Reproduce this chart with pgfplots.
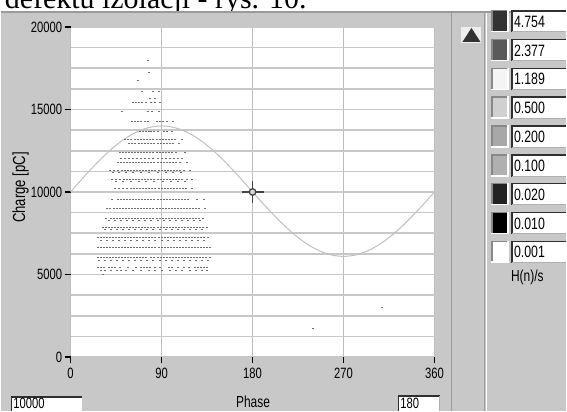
\documentclass[border=0pt]{standalone}
\usepackage{pgfplots}
\pgfplotsset{compat=1.18}
\usepackage{pgfplotstable}
\usepackage{fontspec}
\setmainfont{Liberation Sans}
\newfontfamily\labfont{Liberation Sans}[FakeStretch=0.75]
\newfontfamily\serifont{Liberation Serif}
\definecolor{panel}{HTML}{C8C8C8}
\definecolor{panelline}{HTML}{9A9A9A}
\definecolor{gridc}{HTML}{C8C8C8}
\definecolor{gridv}{HTML}{BEBEBE}
\definecolor{sinec}{HTML}{C0C0C0}
\definecolor{dotc}{HTML}{707070}
\definecolor{curc}{HTML}{444444}
\definecolor{curfill}{HTML}{D8D8D8}
\definecolor{tribg}{HTML}{EEEEEE}
\definecolor{trifg}{HTML}{333333}
\definecolor{swborder}{HTML}{888888}
\definecolor{boxdark}{HTML}{303030}
\definecolor{boxlight}{HTML}{B0B0B0}

\pgfplotstableread{
x y
77 17950
78 17220
67 16740
71 16070
82 16070
87 16070
79 15650
84 15650
62 15400
65 15400
68 15400
71 15400
75 15400
80 15400
84 15400
88 15400
51 14860
77 14860
81 14860
87 14860
61 14260
64 14260
67 14260
70 14260
74 14260
77 14260
85 14260
88 14260
91 14260
95 14260
101 14260
69 13650
72 13650
75 13650
78 13650
80 13650
83 13650
86 13650
92 13650
95 13650
100 13650
54 13170
57 13170
60 13170
64 13170
67 13170
70 13170
73 13170
76 13170
79 13170
82 13170
85 13170
88 13170
91 13170
94 13170
97 13170
100 13170
103 13170
110 13170
58 12930
61 12930
64 12930
68 12930
71 12930
74 12930
77 12930
80 12930
83 12930
86 12930
89 12930
92 12930
95 12930
98 12930
101 12930
107 12930
49 12390
52 12390
55 12390
58 12390
61 12390
64 12390
67 12390
70 12390
73 12390
76 12390
79 12390
82 12390
85 12390
88 12390
91 12390
94 12390
97 12390
100 12390
104 12390
113 12390
50 12030
54 12030
58 12030
62 12030
66 12030
70 12030
74 12030
78 12030
82 12030
86 12030
90 12030
94 12030
98 12030
102 12030
106 12030
110 12030
47 11780
50 11780
53 11780
56 11780
59 11780
62 11780
65 11780
68 11780
71 11780
74 11780
77 11780
80 11780
83 11780
86 11780
89 11780
92 11780
95 11780
98 11780
101 11780
104 11780
108 11780
115 11780
39 11300
43 11300
47 11300
51 11300
54 11300
57 11300
60 11300
63 11300
66 11300
69 11300
72 11300
75 11300
78 11300
81 11300
84 11300
87 11300
90 11300
93 11300
96 11300
99 11300
102 11300
105 11300
108 11300
112 11300
118 11300
42 11180
48 11180
55 11180
62 11180
70 11180
78 11180
86 11180
94 11180
101 11180
109 11180
41 10750
45 10750
49 10750
53 10750
56 10750
59 10750
62 10750
65 10750
68 10750
71 10750
74 10750
77 10750
80 10750
83 10750
86 10750
89 10750
92 10750
95 10750
98 10750
101 10750
104 10750
107 10750
110 10750
115 10750
120 10750
45 10630
52 10630
60 10630
68 10630
75 10630
83 10630
91 10630
99 10630
106 10630
113 10630
44 10210
48 10210
52 10210
56 10210
60 10210
63 10210
66 10210
69 10210
72 10210
75 10210
78 10210
81 10210
84 10210
87 10210
90 10210
93 10210
96 10210
99 10210
102 10210
105 10210
108 10210
111 10210
114 10210
120 10210
41 9545
47 9545
50 9545
53 9545
56 9545
59 9545
62 9545
65 9545
68 9545
71 9545
74 9545
77 9545
80 9545
83 9545
86 9545
89 9545
92 9545
95 9545
98 9545
101 9545
104 9545
107 9545
110 9545
113 9545
116 9545
125 9545
132 9545
36 9000
39 9000
43 9000
46 9000
49 9000
52 9000
55 9000
58 9000
61 9000
64 9000
67 9000
70 9000
73 9000
76 9000
79 9000
82 9000
85 9000
88 9000
91 9000
94 9000
97 9000
100 9000
103 9000
106 9000
109 9000
112 9000
115 9000
118 9000
121 9000
124 9000
127 9000
133 9000
35 8400
40 8400
43 8400
46 8400
49 8400
52 8400
55 8400
58 8400
61 8400
64 8400
67 8400
70 8400
73 8400
76 8400
79 8400
82 8400
85 8400
88 8400
91 8400
94 8400
97 8400
100 8400
103 8400
106 8400
109 8400
112 8400
115 8400
118 8400
121 8400
124 8400
127 8400
131 8400
38 8280
44 8280
50 8280
56 8280
62 8280
68 8280
74 8280
80 8280
86 8280
92 8280
98 8280
104 8280
110 8280
116 8280
122 8280
128 8280
32 7855
35 7855
38 7855
41 7855
44 7855
47 7855
50 7855
53 7855
56 7855
59 7855
62 7855
65 7855
68 7855
71 7855
74 7855
77 7855
80 7855
83 7855
86 7855
89 7855
92 7855
95 7855
98 7855
101 7855
104 7855
107 7855
110 7855
113 7855
116 7855
119 7855
122 7855
125 7855
128 7855
131 7855
135 7855
34 7735
40 7735
46 7735
52 7735
58 7735
64 7735
70 7735
76 7735
82 7735
88 7735
94 7735
100 7735
106 7735
112 7735
118 7735
124 7735
130 7735
27 7250
30 7250
33 7250
36 7250
39 7250
42 7250
45 7250
48 7250
51 7250
54 7250
57 7250
60 7250
63 7250
66 7250
69 7250
72 7250
75 7250
78 7250
81 7250
84 7250
87 7250
90 7250
93 7250
96 7250
99 7250
102 7250
105 7250
108 7250
111 7250
114 7250
117 7250
120 7250
123 7250
126 7250
129 7250
132 7250
136 7250
30 7070
36 7070
42 7070
48 7070
54 7070
60 7070
66 7070
72 7070
78 7070
84 7070
90 7070
96 7070
102 7070
108 7070
114 7070
120 7070
126 7070
132 7070
27 6645
30 6645
33 6645
36 6645
39 6645
42 6645
45 6645
48 6645
51 6645
54 6645
57 6645
60 6645
63 6645
66 6645
69 6645
72 6645
75 6645
78 6645
81 6645
84 6645
87 6645
90 6645
93 6645
96 6645
99 6645
102 6645
105 6645
108 6645
111 6645
114 6645
117 6645
120 6645
123 6645
126 6645
129 6645
132 6645
135 6645
138 6645
27 6040
30 6040
33 6040
36 6040
39 6040
42 6040
45 6040
48 6040
51 6040
54 6040
57 6040
60 6040
63 6040
66 6040
69 6040
72 6040
75 6040
80 6040
83 6040
86 6040
89 6040
92 6040
95 6040
98 6040
101 6040
104 6040
107 6040
110 6040
113 6040
116 6040
119 6040
122 6040
125 6040
128 6040
131 6040
134 6040
138 6040
28 5860
34 5860
40 5860
46 5860
52 5860
58 5860
64 5860
70 5860
76 5860
82 5860
88 5860
94 5860
100 5860
106 5860
112 5860
118 5860
124 5860
130 5860
136 5860
27 5440
30 5440
33 5440
38 5440
41 5440
44 5440
49 5440
57 5440
65 5440
70 5440
73 5440
76 5440
79 5440
84 5440
88 5440
97 5440
100 5440
106 5440
112 5440
117 5440
123 5440
126 5440
129 5440
132 5440
135 5440
30 5255
34 5255
40 5255
46 5255
50 5255
55 5255
62 5255
70 5255
78 5255
84 5255
90 5255
98 5255
104 5255
110 5255
118 5255
124 5255
130 5255
135 5255
32 5010
308 3020
240 1750
}\dotdata

\begin{document}
\begin{tikzpicture}[x=1pt,y=1pt]
% page background and title
\fill[white] (0,0) rectangle (567,412);
\begin{scope}
\clip (0,400) rectangle (567,412);
\node[anchor=base west,inner sep=0pt,font=\serifont\fontsize{30}{30}\selectfont] at (4,403) {defektu izolacji - rys. 10.};
\end{scope}
% panel
\fill[panel] (0,0) rectangle (567,400);
\draw[panelline,line width=1.5pt] (0,400) -- (567,400);
\draw[panelline,line width=1.5pt] (452,0) -- (452,400);
\draw[panelline,line width=1.5pt] (485,0) -- (485,400);
\draw[white,line width=1pt] (487,0) -- (487,399);
% triangle
\fill[tribg] (462,369) rectangle (482,385);
\fill[trifg] (463,370) -- (481,370) -- (472,384) -- cycle;
% legend
\foreach \v/\c [count=\i from 0] in {4.754/333333,2.377/5A5A5A,1.189/F4F4F4,0.500/D0D0D0,0.200/A8A8A8,0.100/B0B0B0,0.020/222222,0.010/000000,0.001/FFFFFF}{
  \definecolor{swc}{HTML}{\c}
  \pgfmathsetmacro{\rtop}{412-10-28.9*\i}
  \pgfmathsetmacro{\rbot}{\rtop-22.5}
  \fill[white] (492,\rbot) rectangle (509.5,\rtop);
  \fill[swborder] (492,\rbot+1.5) rectangle (508,\rtop);
  \fill[swc] (493.5,\rbot+1.5) rectangle (508,\rtop-1.5);
  \fill[white] (512,\rbot) rectangle (567,\rtop);
  \draw[boxdark,line width=1.6pt] (512.8,\rbot) -- (512.8,\rtop-0.8) -- (567,\rtop-0.8);
  \draw[boxlight,line width=1pt] (513,\rbot+0.5) -- (567,\rbot+0.5);
  \node[anchor=west,inner sep=0pt,font=\labfont\fontsize{16.5}{16.5}\selectfont] at (514.5,{(\rtop+\rbot)/2-0.5}) {\v};
}
\node[font=\labfont\fontsize{16}{16}\selectfont] at (528,134) {H(n)/s};
% bottom boxes
\fill[white] (10,0) rectangle (81,15);
\draw[boxdark,line width=1.6pt] (10.8,0) -- (10.8,14.2) -- (81,14.2);
\node[anchor=base west,inner sep=0pt,font=\labfont\fontsize{15}{15}\selectfont] at (12.5,2) {10000};
\fill[white] (398,0) rectangle (440,16);
\draw[boxdark,line width=1.6pt] (398.8,0) -- (398.8,15.2) -- (440,15.2);
\draw[boxlight,line width=1pt] (439.5,0) -- (439.5,15);
\node[anchor=base west,inner sep=0pt,font=\labfont\fontsize{15}{15}\selectfont] at (400.5,2) {180};
\node[font=\labfont\fontsize{16}{16}\selectfont] at (253,9.5) {Phase};
\node[rotate=90,font=\labfont\fontsize{17.5}{17.5}\selectfont] at (20,224) {Charge [pC]};
\begin{axis}[
  at={(70pt,54pt)}, anchor=south west,
  scale only axis, width=365pt, height=331pt,
  xmin=0, xmax=360, ymin=0, ymax=20000,
  axis background/.style={fill=white},
  axis line style={draw=none},
  xtick={0,90,180,270,360},
  ytick={0,5000,10000,15000,20000},
  minor ytick={1250,2500,3750,6250,7500,8750,11250,12500,13750,16250,17500,18750},
  scaled y ticks=false,
  /pgf/number format/assume math mode=true,
  /pgf/number format/set thousands separator={},
  ticklabel style={font=\labfont\fontsize{15}{15}\selectfont},
  xticklabel style={yshift=-2pt},
  yticklabel style={xshift=1pt},
  tick pos=left, tick align=outside,
  major tick length=6pt, minor tick length=0pt,
  tick style={black,line width=1.4pt},
  xmajorgrids, ymajorgrids, yminorgrids,
  x grid style={draw=gridv,line width=1pt},
  major y grid style={draw=gridc,line width=1.6pt},
  minor y grid style={draw=gridc,line width=1.6pt},
  clip=false,
]
\addplot[draw=sinec,line width=1pt,smooth] coordinates {
(0,10000) (10,10695) (20,11368) (30,12000) (40,12571) (50,13064) (60,13464) (70,13759) (80,13939) (90,14000)
(100,13939) (110,13759) (120,13464) (130,13064) (140,12571) (150,12000) (160,11368) (170,10695) (180,10000)
(190,9323) (200,8666) (210,8050) (220,7493) (230,7012) (240,6623) (250,6335) (260,6159) (270,6100)
(280,6159) (290,6335) (300,6623) (310,7012) (320,7493) (330,8050) (340,8666) (350,9323) (360,10000)};
\addplot[only marks, mark=-, mark size=1pt, mark options={draw=dotc,line width=0.9pt}] table[x=x,y=y] {\dotdata};
\addplot[only marks, mark=+, mark size=11pt, mark options={draw=curc,line width=1.5pt}] coordinates {(180,10000)};
\addplot[only marks, mark=*, mark size=3.3pt, mark options={draw=curc,fill=curfill,line width=1.3pt}] coordinates {(180,10000)};
\end{axis}
\end{tikzpicture}
\end{document}
